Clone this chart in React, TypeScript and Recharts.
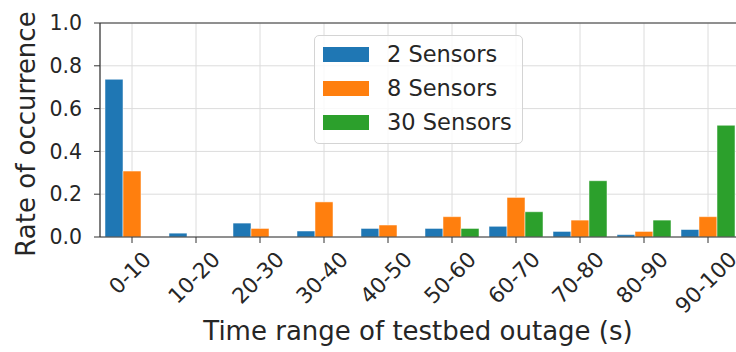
import React from "react";
import {
  Bar,
  BarChart,
  CartesianGrid,
  Label,
  ReferenceLine,
  XAxis,
  YAxis,
} from "recharts";

const ranges = ["0-10", "10-20", "20-30", "30-40", "40-50", "50-60", "60-70", "70-80", "80-90", "90-100"];
const twoSensors = [0.737, 0.018, 0.065, 0.028, 0.04, 0.04, 0.05, 0.026, 0.011, 0.035];
const eightSensors = [0.308, 0, 0.04, 0.164, 0.056, 0.095, 0.185, 0.079, 0.026, 0.095];
const thirtySensors = [0, 0, 0, 0, 0, 0.04, 0.118, 0.263, 0.079, 0.522];
const yTicks = [0, 0.2, 0.4, 0.6, 0.8, 1.0];
const seriesNames = ["2 Sensors", "8 Sensors", "30 Sensors"];

const data = ranges.map((range, i) => ({
  range,
  two: twoSensors[i],
  eight: eightSensors[i],
  thirty: thirtySensors[i],
}));

const COLORS = ["#1f77b4", "#ff7f0e", "#2ca02c"];
const KEYS = ["two", "eight", "thirty"];

const FONT = "DejaVu Sans";
const INK = "#262626";
const SPINE = "#333333";
const GRID = "#dcdcdc";
const TICK_FS = 20.5;
const XTICK_FS = 21.5;
const LABEL_FS = 26;

// rough DejaVu advance widths, used to place the rotated labels
const textWidth = (s: string, fs: number) =>
  s.split("").reduce((w, c) => w + (c === "-" ? 0.361 : 0.636), 0) * fs;

function RotatedTick(props: any) {
  const { x, y, payload } = props;
  const w = textWidth(String(payload.value), XTICK_FS);
  const half = (w + XTICK_FS * 0.73) * 0.354;
  const cy = y + 7 + half;
  const cx = x - 2;
  return (
    <text
      x={cx}
      y={cy}
      textAnchor="middle"
      dominantBaseline="central"
      transform={`rotate(-45, ${cx}, ${cy})`}
      fill={INK}
      fontSize={XTICK_FS}
      fontFamily={FONT}
    >
      {payload.value}
    </text>
  );
}

function LegendBox() {
  return (
    <div
      style={{
        position: "absolute",
        left: 314,
        top: 35,
        width: 209,
        height: 109,
        boxSizing: "border-box",
        border: "1px solid #d4d4d4",
        borderRadius: 5,
        background: "rgba(255,255,255,0.8)",
        fontFamily: FONT,
        fontSize: 22.5,
        color: INK,
        paddingTop: 1,
      }}
    >
      {seriesNames.map((name, i) => (
        <div key={name} style={{ height: 34, display: "flex", alignItems: "center" }}>
          <span style={{ display: "inline-block", width: 46, height: 15, marginLeft: 8, background: COLORS[i] }} />
          <span style={{ marginLeft: 18, whiteSpace: "nowrap", lineHeight: "34px" }}>{name}</span>
        </div>
      ))}
    </div>
  );
}

export default function App() {
  return (
    <div
      style={{
        position: "absolute",
        left: 0,
        top: 0,
        width: 736,
        height: 352,
        overflow: "hidden",
        background: "#fff",
      }}
    >
      <BarChart
        width={740}
        height={352}
        data={data}
        margin={{ top: 23, right: 0, left: 0, bottom: 0 }}
        barGap={0}
      >
        <CartesianGrid stroke={GRID} strokeWidth={1} />
        <XAxis
          dataKey="range"
          height={115}
          tickSize={6}
          tickMargin={0}
          interval={0}
          stroke={SPINE}
          tickLine={{ stroke: SPINE }}
          axisLine={{ stroke: SPINE, strokeWidth: 1.2 }}
          tick={<RotatedTick />}
        >
          <Label
            content={() => (
              <text x={418} y={331} textAnchor="middle" dominantBaseline="central" fill={INK} fontSize={LABEL_FS} fontFamily={FONT}>
                Time range of testbed outage (s)
              </text>
            )}
          />
        </XAxis>
        <YAxis
          width={100}
          domain={[0, 1]}
          ticks={yTicks}
          interval={0}
          tickSize={6}
          tickMargin={12}
          tickFormatter={(v: number) => v.toFixed(1)}
          tick={{ fill: INK, fontSize: TICK_FS, fontFamily: FONT }}
          tickLine={{ stroke: SPINE }}
          axisLine={{ stroke: SPINE, strokeWidth: 1.2 }}
        >
          <Label
            content={() => (
              <text
                x={26}
                y={134}
                textAnchor="middle"
                dominantBaseline="central"
                transform="rotate(-90, 26, 134)"
                fill={INK}
                fontSize={LABEL_FS}
                fontFamily={FONT}
              >
                Rate of occurrence
              </text>
            )}
          />
        </YAxis>
        <ReferenceLine y={1} stroke={SPINE} strokeWidth={1.2} />
        {KEYS.map((k, i) => (
          <Bar
            key={k}
            dataKey={k}
            name={seriesNames[i]}
            fill={COLORS[i]}
            barSize={18}
            stroke="#ffffff"
            strokeWidth={0.5}
            isAnimationActive={false}
          />
        ))}
      </BarChart>
      <LegendBox />
    </div>
  );
}
